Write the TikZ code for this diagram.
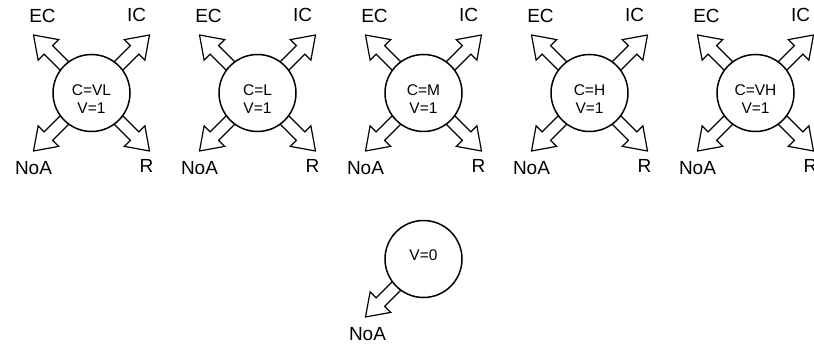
\documentclass[tikz,border=0pt]{standalone}
\usepackage{fontspec}
\setmainfont{Liberation Sans}
\begin{document}
\begin{tikzpicture}[x=1pt,y=-1pt,
  state/.style={circle,draw,line width=1.5pt,fill=white,minimum size=77pt,inner sep=0pt,outer sep=0pt},
  inner/.style={align=center,font=\fontsize{15.5}{18}\selectfont,inner sep=0pt},
  lbl/.style={font=\fontsize{19}{22}\selectfont,inner sep=0pt},
  blkline/.style={draw,fill=white,line width=1.2pt,line join=miter},
  blk/.pic={\path[blkline] (30,-6) -- (61,-6) -- (61,-14.5) -- (82,0) -- (61,14.5) -- (61,6) -- (30,6);}
]
\useasboundingbox (0,0) rectangle (814,347);
% positions
\coordinate (p1) at (91.5,93);
\coordinate (p2) at (257.5,93);
\coordinate (p3) at (423.5,93);
\coordinate (p4) at (589.5,93);
\coordinate (p5) at (755.5,93);
\coordinate (p6) at (423.5,259);
% arrows (drawn beneath circles)
\foreach \i in {1,...,5}{
  \pic[rotate=135] at (p\i) {blk};
  \pic[rotate=45] at (p\i) {blk};
  \pic[rotate=225] at (p\i) {blk};
  \pic[rotate=315] at (p\i) {blk};
}
\pic[rotate=225] at (p6) {blk};
% circles
\foreach \i in {1,...,6}{ \node[state] (c\i) at (p\i) {}; }
% inner texts
\node[inner] (t1) at ([yshift=-6pt]c1.center) {C=VL\\V=1};
\node[inner] (t2) at ([yshift=-6pt]c2.center) {C=L\\V=1};
\node[inner] (t3) at ([yshift=-6pt]c3.center) {C=M\\V=1};
\node[inner] (t4) at ([yshift=-6pt]c4.center) {C=H\\V=1};
\node[inner] (t5) at ([yshift=-6pt]c5.center) {C=VH\\V=1};
\node[inner] (t6) at ([yshift=4pt]c6.center) {V=0};
% outer labels
\foreach \i in {1,...,5}{
  \node[lbl] (ec\i) at ([shift={(-49,-77)}]c\i.center) {EC};
  \node[lbl] (ic\i) at ([shift={(45,-78)}]c\i.center) {IC};
  \node[lbl] (noa\i) at ([shift={(-58,75)}]c\i.center) {NoA};
  \node[lbl] (r\i) at ([shift={(55,73)}]c\i.center) {R};
}
\node[lbl] (noa6) at ([shift={(-56,75)}]c6.center) {NoA};
\end{tikzpicture}
\end{document}
